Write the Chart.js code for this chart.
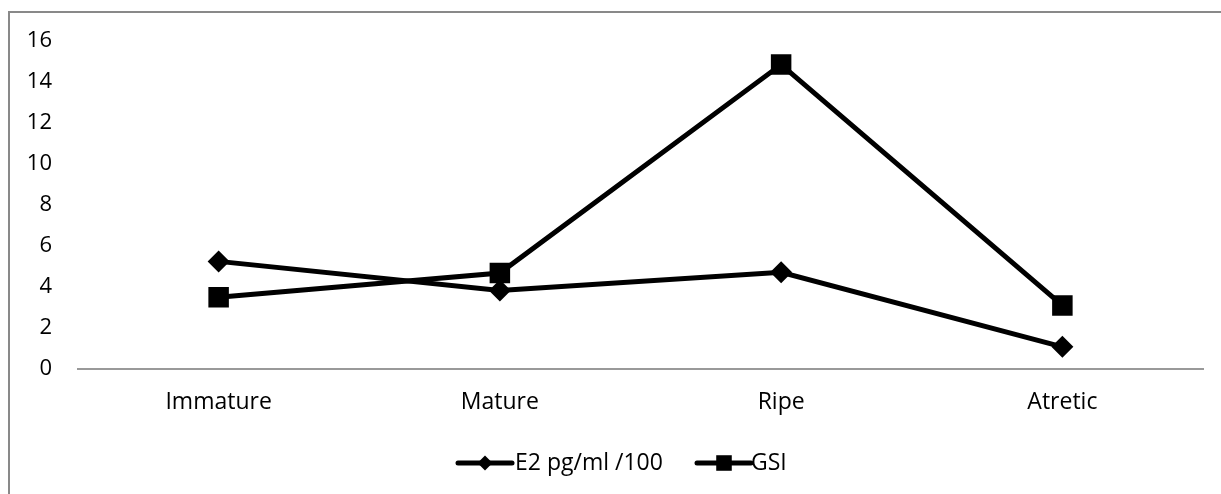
<!DOCTYPE html>
<html>
<head>
<meta charset="utf-8">
<script src="https://cdn.jsdelivr.net/npm/chart.js@4/dist/chart.umd.min.js"></script>
<style>
html,body{margin:0;padding:0;background:#fff;}
#wrap{width:1221px;height:494px;position:relative;}
</style>
</head>
<body>
<div id="wrap"><canvas id="c" width="1221" height="494"></canvas></div>
<script>
const categories = ["Immature", "Mature", "Ripe", "Atretic"];
const e2Values = [5.25, 3.83, 4.72, 1.08];
const gsiValues = [3.5, 4.68, 14.85, 3.1];
const yTicks = [0, 2, 4, 6, 8, 10, 12, 14, 16];
const seriesNames = ["E2 pg/ml /100", "GSI"];

const FONT = "'Open Sans', sans-serif";

const frame = {
  id: 'frame',
  beforeDraw(chart) {
    const ctx = chart.ctx;
    ctx.save();
    ctx.fillStyle = '#fff';
    ctx.fillRect(0, 0, chart.width, chart.height);
    ctx.strokeStyle = '#898989';
    ctx.lineWidth = 2;
    ctx.strokeRect(9, 12, 1230, 500);
    ctx.restore();
  }
};

const customLegend = {
  id: 'customLegend',
  afterDraw(chart) {
    const ctx = chart.ctx;
    const y = 463;
    const items = [
      {x1: 458, x2: 512, tx: 515, r: 7.5, ds: chart.data.datasets[0]},
      {x1: 697, x2: 751, tx: 751, r: 11, ds: chart.data.datasets[1]}
    ];
    ctx.save();
    items.forEach(it => {
      ctx.strokeStyle = '#000';
      ctx.lineWidth = 5;
      ctx.lineCap = 'round';
      ctx.beginPath();
      ctx.moveTo(it.x1, y);
      ctx.lineTo(it.x2, y);
      ctx.stroke();
      ctx.fillStyle = '#000';
      Chart.helpers.drawPoint(ctx, {
        pointStyle: it.ds.pointStyle,
        radius: it.r,
        borderWidth: 0
      }, (it.x1 + it.x2) / 2, y);
      ctx.fillStyle = '#000';
      ctx.font = "23px " + FONT;
      ctx.textBaseline = 'middle';
      ctx.textAlign = 'left';
      ctx.fillText(it.ds.label, it.tx, y);
    });
    ctx.restore();
  }
};

new Chart(document.getElementById('c'), {
  type: 'line',
  data: {
    labels: categories,
    datasets: [
      {
        label: seriesNames[0],
        data: e2Values,
        borderColor: '#000',
        backgroundColor: '#000',
        borderWidth: 5,
        pointStyle: 'rectRot',
        pointRadius: 11,
        pointBorderWidth: 0,
        tension: 0
      },
      {
        label: seriesNames[1],
        data: gsiValues,
        borderColor: '#000',
        backgroundColor: '#000',
        borderWidth: 5,
        pointStyle: 'rect',
        pointRadius: 14.5,
        pointBorderWidth: 0,
        tension: 0
      }
    ]
  },
  options: {
    responsive: false,
    animation: false,
    layout: { padding: { left: 0, top: 41, right: 18, bottom: 0 } },
    plugins: { legend: { display: false }, tooltip: { enabled: false } },
    scales: {
      x: {
        offset: true,
        grid: { display: false, drawTicks: false },
        border: { display: true, color: '#999', width: 2 },
        ticks: { color: '#000', font: { family: FONT, size: 23 }, padding: 20 },
        afterFit(s) { s.height = 125; }
      },
      y: {
        min: 0, max: 16,
        afterBuildTicks(s) { s.ticks = yTicks.map(v => ({ value: v })); },
        grid: { display: false, drawTicks: false },
        border: { display: false },
        ticks: { color: '#000', font: { family: FONT, size: 22 }, padding: 26 },
        afterFit(s) { s.width = 78; }
      }
    }
  },
  plugins: [frame, customLegend]
});
</script>
</body>
</html>
